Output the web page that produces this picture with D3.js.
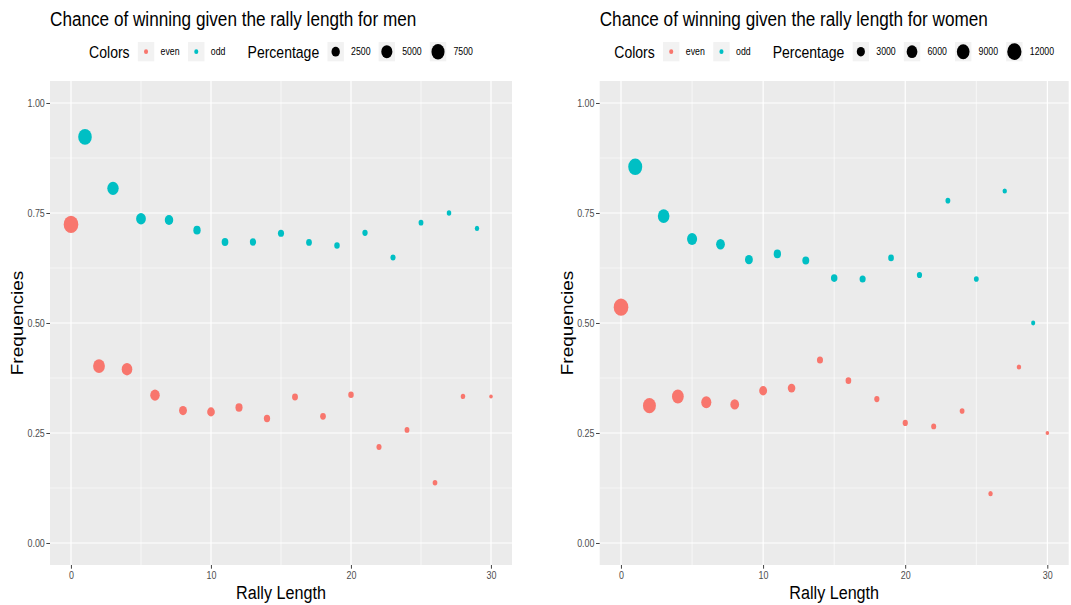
<!DOCTYPE html>
<html>
<head>
<meta charset="utf-8">
<script src="https://cdn.jsdelivr.net/npm/d3@7"></script>
<style>
body { margin: 0; background: #fff; }
text { font-family: "Liberation Sans", Arial, sans-serif; }
</style>
</head>
<body>
<div id="chart"></div>
<script>
// rally length (0..30) for both plots
var rallyLength = [0, 1, 2, 3, 4, 5, 6, 7, 8, 9, 10, 11, 12, 13, 14, 15,
                   16, 17, 18, 19, 20, 21, 22, 23, 24, 25, 26, 27, 28, 29, 30];

// men
var menFreq = [0.724, 0.923, 0.402, 0.806, 0.395, 0.737, 0.336, 0.734, 0.301, 0.711,
               0.298, 0.684, 0.308, 0.684, 0.283, 0.704, 0.332, 0.683, 0.288, 0.676,
               0.337, 0.705, 0.218, 0.649, 0.257, 0.728, 0.137, 0.750, 0.333, 0.715, 0.333];
var menCount = [9800, 8170, 5800, 5300, 4418, 3626, 3410, 2573, 2186, 1844,
                2033, 1518, 1718, 1345, 1345, 1282, 1194, 1141, 1141, 1068,
                1068, 1025, 967, 967, 917, 917, 889, 865, 860, 850, 800];
var menBreaks = [2500, 5000, 7500];

// women
var womenFreq = [0.536, 0.855, 0.312, 0.743, 0.333, 0.691, 0.320, 0.679, 0.315, 0.644,
                 0.346, 0.657, 0.352, 0.642, 0.416, 0.602, 0.369, 0.600, 0.327, 0.648,
                 0.273, 0.609, 0.265, 0.778, 0.300, 0.600, 0.112, 0.800, 0.400, 0.500, 0.250];
var womenCount = [12800, 11580, 9500, 7300, 7500, 5100, 5118, 3608, 3608, 2800,
                  2829, 2370, 2558, 2080, 1610, 1830, 1420, 1610, 1270, 1420,
                  1270, 1270, 1200, 1150, 1150, 1150, 1070, 1070, 1070, 1030, 1000];
var womenBreaks = [3000, 6000, 9000, 12000];

var colorNames = ["even", "odd"];
var colorValues = ["#F8766D", "#00BFC4"];
var yTicks = [0, 0.25, 0.5, 0.75, 1];
var yMinor = [0.125, 0.375, 0.625, 0.875];
var xTicks = [0, 10, 20, 30];
var xMinor = [5, 15, 25];

// the reference picture is squeezed sideways, so draw wide and squeeze
var SX = 0.85;
var TOP = 81, BOTTOM = 565;

var svg = d3.select("#chart")
    .append("svg")
    .attr("width", 1071)
    .attr("height", 605);
var root = svg.append("g").attr("transform", "scale(" + SX + ",1)");

var color = d3.scaleOrdinal().domain(colorNames).range(colorValues);

function Panel(left, right, title, freq, count, breaks) {
    var x0 = left / SX, x1 = right / SX;
    var g = root.append("g");

    var xScale = d3.scaleLinear().domain([-1.5, 31.5]).range([x0, x1]);
    var yScale = d3.scaleLinear().domain([-0.05, 1.05]).range([BOTTOM, TOP]);

    // size like ggplot: rescale, sqrt, then to diameter
    var sizeT = d3.scaleLinear().domain(d3.extent(count)).range([0, 1]);
    var diam = d3.scaleLinear().domain([0, 1]).range([4.2, 17.2]);
    function radius(v) { return diam(Math.sqrt(Math.max(0, sizeT(v)))) / 2; }

    g.append("rect")
        .attr("x", x0).attr("y", TOP)
        .attr("width", x1 - x0).attr("height", BOTTOM - TOP)
        .attr("fill", "#EBEBEB");

    // grid
    g.append("g").selectAll("line").data(yMinor).enter().append("line")
        .attr("x1", x0).attr("x2", x1)
        .attr("y1", function (d) { return yScale(d); })
        .attr("y2", function (d) { return yScale(d); })
        .attr("stroke", "#fff").attr("stroke-width", 0.6);
    g.append("g").selectAll("line").data(xMinor).enter().append("line")
        .attr("y1", TOP).attr("y2", BOTTOM)
        .attr("x1", function (d) { return xScale(d); })
        .attr("x2", function (d) { return xScale(d); })
        .attr("stroke", "#fff").attr("stroke-width", 0.7);
    g.append("g").selectAll("line").data(yTicks).enter().append("line")
        .attr("x1", x0).attr("x2", x1)
        .attr("y1", function (d) { return yScale(d); })
        .attr("y2", function (d) { return yScale(d); })
        .attr("stroke", "#fff").attr("stroke-width", 1.2);
    g.append("g").selectAll("line").data(xTicks).enter().append("line")
        .attr("y1", TOP).attr("y2", BOTTOM)
        .attr("x1", function (d) { return xScale(d); })
        .attr("x2", function (d) { return xScale(d); })
        .attr("stroke", "#fff").attr("stroke-width", 1.4);

    // points
    var pts = rallyLength.map(function (l, i) {
        return { x: l, y: freq[i], n: count[i], c: l % 2 === 0 ? "even" : "odd" };
    });
    g.append("g").selectAll("circle").data(pts).enter().append("circle")
        .attr("cx", function (d) { return xScale(d.x); })
        .attr("cy", function (d) { return yScale(d.y); })
        .attr("r", function (d) { return radius(d.n); })
        .attr("fill", function (d) { return color(d.c); });

    // axes
    var yAxis = d3.axisLeft(yScale)
        .tickValues(yTicks)
        .tickFormat(d3.format(".2f"))
        .tickSize(4.3)
        .tickPadding(1.8);
    var xAxis = d3.axisBottom(xScale)
        .tickValues(xTicks)
        .tickSize(3.7)
        .tickPadding(3.3);

    var ya = g.append("g").attr("transform", "translate(" + x0 + ",0)").call(yAxis);
    var xa = g.append("g").attr("transform", "translate(0," + BOTTOM + ")").call(xAxis);
    [ya, xa].forEach(function (a) {
        a.select(".domain").remove();
        a.selectAll(".tick line").attr("stroke", "#333333").attr("stroke-width", 1);
        a.selectAll(".tick text")
            .attr("fill", "#4D4D4D")
            .style("font-size", "10.5px")
            .style("font-family", "'Liberation Sans', Arial, sans-serif");
    });

    // titles
    g.append("text")
        .text(title)
        .attr("x", x0)
        .attr("y", 26)
        .style("font-size", "20.2px");
    g.append("text")
        .text("Rally Length")
        .attr("text-anchor", "middle")
        .attr("x", (x0 + x1) / 2)
        .attr("y", 599)
        .style("font-size", "19px");
    g.append("text")
        .text("Frequencies")
        .attr("text-anchor", "middle")
        .attr("transform", "translate(" + (x0 - 27 / SX) + "," + ((TOP + BOTTOM) / 2) + ") rotate(-90)")
        .style("font-size", "19px");

    // legend, laid out left to right then centred over the panel
    var LY = 51.7, KEY = 19.3;
    var leg = g.append("g");
    var cx = 0;
    function label(txt, size) {
        var t = leg.append("text").text(txt)
            .attr("x", cx).attr("y", LY)
            .attr("dy", "0.36em")
            .style("font-size", size + "px");
        cx += t.node().getComputedTextLength();
    }
    function key() {
        leg.append("rect")
            .attr("x", cx).attr("y", LY - KEY / 2)
            .attr("width", KEY).attr("height", KEY)
            .attr("fill", "#F2F2F2");
        var c = cx + KEY / 2;
        cx += KEY;
        return c;
    }
    label("Colors", 16.5);
    cx += 9.7;
    colorNames.forEach(function (name, i) {
        if (i > 0) cx += 10;
        var c = key();
        leg.append("circle").attr("cx", c).attr("cy", LY).attr("r", 2.4)
            .attr("fill", color(name));
        cx += 7.5;
        label(name, 10.3);
    });
    cx += 26;
    label("Percentage", 16.5);
    cx += 9.7;
    breaks.forEach(function (b, i) {
        if (i > 0) cx += 9.5;
        var c = key();
        leg.append("circle").attr("cx", c).attr("cy", LY).attr("r", radius(b))
            .attr("fill", "#000");
        cx += 8.5;
        label(String(b), 10.3);
    });
    leg.attr("transform", "translate(" + ((x0 + x1) / 2 - cx / 2) + ",0)");
}

Panel(50, 512, "Chance of winning given the rally length for men", menFreq, menCount, menBreaks);
Panel(599.7, 1068.7, "Chance of winning given the rally length for women", womenFreq, womenCount, womenBreaks);
</script>
</body>
</html>
